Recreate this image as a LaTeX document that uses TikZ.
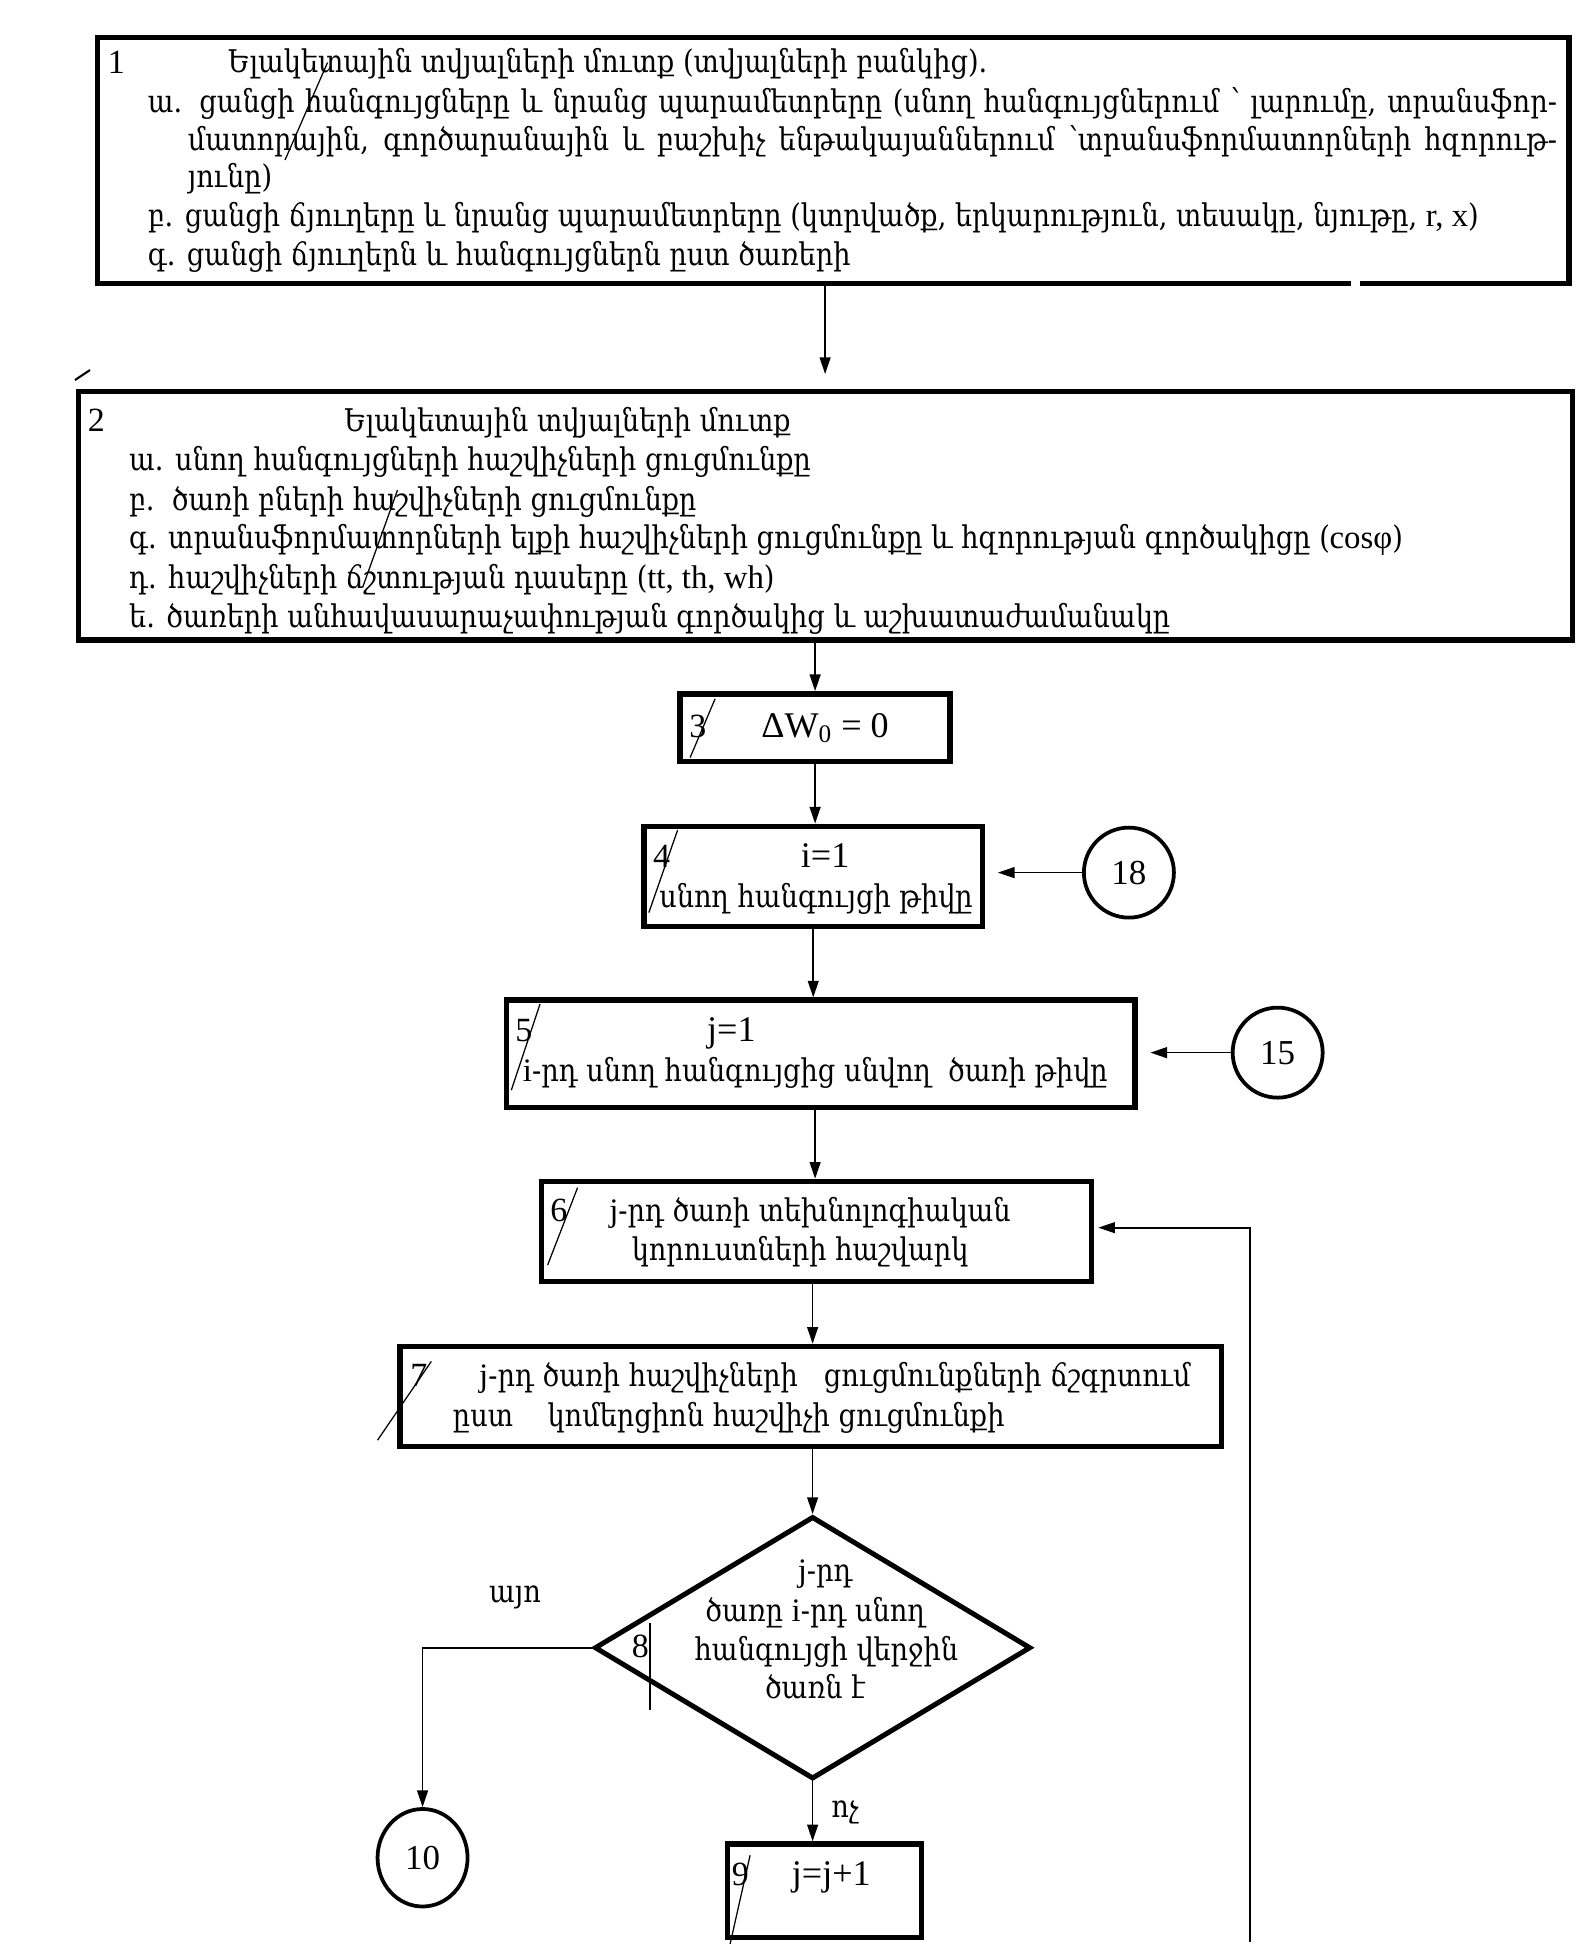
\documentclass[tikz,border=0pt]{standalone}
\usepackage{fontspec}
\setmainfont{DejaVu Serif}[FakeStretch=0.87]
\newfontfamily\tm{Liberation Serif}[Scale=1.05]
\usetikzlibrary{arrows.meta,shapes.geometric}
\begin{document}
\begin{tikzpicture}[x=0.6pt,y=-0.6pt,
  every node/.style={inner sep=0pt, font=\fontsize{15}{18}\selectfont},
  box/.style={draw, line width=2.6pt, rectangle},
  dia/.style={draw, line width=2.4pt, diamond},
  circ/.style={draw, line width=1.8pt, ellipse, minimum width=43.2pt, minimum height=43.2pt, font=\tm\fontsize{16}{18}\selectfont},
  conn/.style={line width=0.8pt, -{Triangle[length=8pt,width=5.2pt]}},
  penline/.style={line width=0.6pt},
  tl/.style={anchor=base west},
  tc/.style={anchor=base},
  num/.style={anchor=base west, font=\tm\fontsize{15.5}{18}\selectfont},
  lat/.style={anchor=base, font=\tm\fontsize{16.5}{18}\selectfont}
]
\useasboundingbox (0,0) rectangle (1275,1555);

% ---------- boxes ----------
\node[box, minimum width=706.2pt, minimum height=118.2pt] (b1) at (666.5,128.5) {};
\node[box, minimum width=717pt, minimum height=119.4pt] (b2) at (660.5,412.5) {};
\node[box, minimum width=129.6pt, minimum height=32.4pt] (b3) at (652,582) {};
\node[box, minimum width=162.6pt, minimum height=48pt] (b4) at (650.5,701) {};
\node[box, minimum width=301.8pt, minimum height=51.6pt] (b5) at (656.5,843) {};
\node[box, minimum width=264pt, minimum height=48pt] (b6) at (653,985) {};
\node[box, minimum width=394.2pt, minimum height=48pt] (b7) at (648.5,1117) {};
\node[dia, minimum width=209.4pt, minimum height=126pt] (d8) at (650,1318) {};
\node[box, minimum width=93pt, minimum height=45pt] (b9) at (659.5,1512.5) {};
\node[circ] (c18) at (903,698) {18};
\node[circ] (c15) at (1022,842) {15};
\node[circ, minimum height=46.8pt] (c10) at (338,1486) {10};

% gap in bottom border of box 1
\fill[white] (1081,222) rectangle (1088,232);

% ---------- box 1 text ----------
\node[num] (n1) at (86,59) {1};
\node[tl] (t1a) at (182,58) {Ելակետային տվյալների մուտք (տվյալների բանկից).};
\node[tl] (t1b) at (118,90) {\makebox[676.2pt][s]{ա. ցանցի հանգույցները և նրանց պարամետրերը (սնող հանգույցներում ՝ լարումը, տրանսֆոր-}};
\node[tl] (t1c) at (150,120) {\makebox[657pt][s]{մատորային, գործարանային և բաշխիչ ենթակայաններում ՝տրանսֆորմատորների հզորութ-}};
\node[tl] (t1d) at (150,150) {յունը)};
\node[tl] (t1e) at (118,181) {բ. ցանցի ճյուղերը և նրանց պարամետրերը (կտրվածք, երկարություն, տեսակը, նյութը, {\tm r, x})};
\node[tl] (t1f) at (118,212) {գ. ցանցի ճյուղերն և հանգույցներն ըստ ծառերի};
\draw[penline] (262,50) -- (228,128);

% ---------- box 2 text ----------
\node[num] (n2) at (70,345) {2};
\node[tl] (t2a) at (275,345) {Ելակետային տվյալների մուտք};
\node[tl] (t2b) at (103,376) {ա. սնող հանգույցների հաշվիչների ցուցմունքը};
\node[tl] (t2c) at (103,408) {բ.\ \ ծառի բների հաշվիչների ցուցմունքը};
\node[tl] (t2d) at (103,439) {գ. տրանսֆորմատորների ելքի հաշվիչների ցուցմունքը և հզորության գործակիցը ({\tm cosφ})};
\node[tl] (t2e) at (103,471) {դ. հաշվիչների ճշտության դասերը ({\tm tt, th, wh})};
\node[tl] (t2f) at (103,502) {ե. ծառերի անհավասարաչափության գործակից և աշխատաժամանակը};
\draw[penline] (318,392) -- (290,470);
\draw[line width=1pt] (60,304) -- (72,296);

% ---------- box 3..7 text ----------
\node[num] (n3) at (551,590) {3};
\draw[penline] (572,559) -- (552,606);
\node[lat] (t3) at (660,590) {ΔW\textsubscript{0} = 0};

\node[num] (n4) at (522,694) {4};
\draw[penline] (542,664) -- (519,730);
\node[lat] (t4a) at (660,694) {i=1};
\node[tl] (t4b) at (527,726) {սնող հանգույցի թիվը};

\node[num] (n5) at (412,833) {5};
\draw[penline] (432,803) -- (409,872);
\node[lat] (t5a) at (585,833) {j=1};
\node[tl] (t5b) at (418,865) {{\tm i}-րդ սնող հանգույցից սնվող\ \ ծառի թիվը};

\node[num] (n6) at (440,977) {6};
\draw[penline] (462,950) -- (438,1012);
\node[tl] (t6a) at (487,977) {{\tm j}-րդ ծառի տեխնոլոգիական};
\node[tl] (t6b) at (505,1008) {կորուստների հաշվարկ};

\node[num] (n7) at (328,1109) {7};
\draw[penline] (345,1089) -- (302,1152);
\node[tl] (t7a) at (383,1109) {{\tm j}-րդ ծառի հաշվիչների\ \ \ ցուցմունքների ճշգրտում};
\node[tl] (t7b) at (362,1141) {ըստ\ \ \ \ կոմերցիոն հաշվիչի ցուցմունքի};

% ---------- diamond text ----------
\node[tc] (t8a) at (660,1265) {{\tm j}-րդ};
\node[tc] (t8b) at (652,1297) {ծառը {\tm i}-րդ սնող};
\node[tc] (t8c) at (661,1328) {հանգույցի վերջին};
\node[tc] (t8d) at (652,1359) {ծառն է};
\node[num] (n8) at (505,1326) {8};
\draw[penline] (520,1298) -- (520,1368);
\node[tc] (ty) at (412,1282) {այո};
\node[tc] (tn) at (676,1454) {ոչ};

% ---------- box 9 ----------
\node[num] (n9) at (585,1508) {9};
\draw[penline] (600,1484) -- (584,1555);
\node[lat] (t9) at (665,1508) {j=j+1};

% ---------- connectors ----------
\coordinate (x12) at (660,0);
\draw[conn, shorten >=7pt] (b1.south -| x12) -- (b2.north -| x12);
\draw[conn] (b2.south -| b3.north) -- (b3.north);
\draw[conn] (b3.south) -- (b3.south |- b4.north);
\draw[conn] (b4.south) -- (b4.south |- b5.north);
\draw[conn] (b5.south -| b3.south) -- (b3.south |- b6.north);
\draw[conn] (b6.south -| d8.north) -- (d8.north |- b7.north);
\draw[conn] (b7.south -| d8.north) -- (d8.north);
\draw[conn] (d8.south) -- (d8.south |- b9.north);
\draw[conn] (d8.west) -| (c10.north);
\draw[conn, shorten >=6pt] (c18.west) -- (c18.west -| b4.east);
\draw[conn, shorten >=6pt] (c15.west) -- (c15.west -| b5.east);
\coordinate (fb) at (1000,1553);
\coordinate (fbt) at (1000,982);
\draw[conn, shorten >=2pt] (fb) -- (fbt) -- (fbt -| b6.east);
\end{tikzpicture}
\end{document}
